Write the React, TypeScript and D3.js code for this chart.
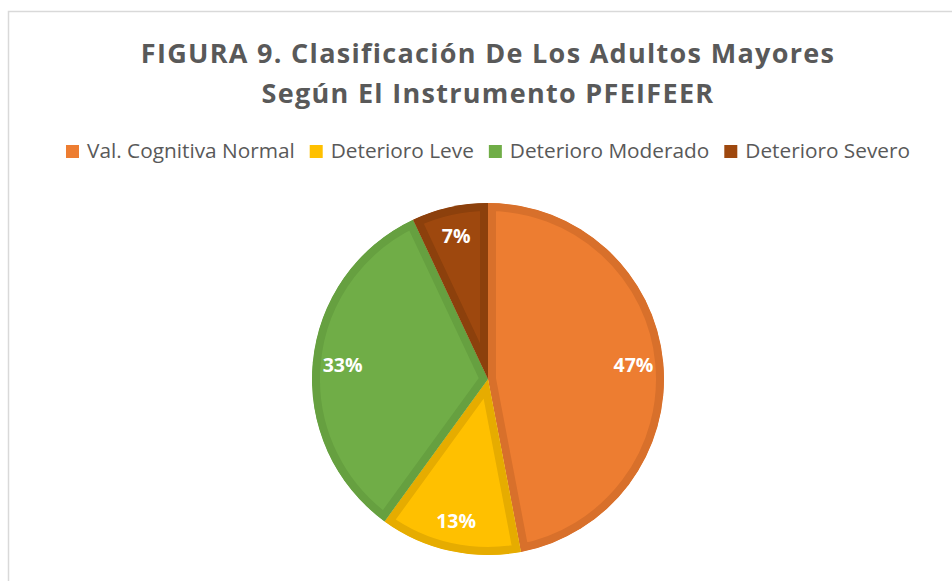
import React, { useEffect, useRef } from 'react';
import * as d3 from 'd3';

const width = 952;
const height = 581;

const categories = ['Val. Cognitiva Normal', 'Deterioro Leve', 'Deterioro Moderado', 'Deterioro Severo'];
const values = [47, 13, 33, 7];
const fills = ['#ED7D31', '#FFC000', '#70AD47', '#9E480E'];
const borders = ['#D8702B', '#E6AC00', '#66A040', '#8C400C'];
const titleLines = ['FIGURA 9. Clasificación De Los Adultos Mayores', 'Según El Instrumento PFEIFEER'];

const textColor = '#595959';
const font = '"Open Sans", "Noto Sans", sans-serif';
const cx = 488;
const cy = 379;
const radius = 176;
const border = 8;

export default function App() {
  const ref = useRef<SVGSVGElement>(null);

  useEffect(() => {
    const svg = d3.select(ref.current);
    svg.selectAll('*').remove();

    // chart frame
    svg.append('rect')
      .attr('x', 8.5).attr('y', 11.5)
      .attr('width', 1000).attr('height', 700)
      .attr('fill', '#fff').attr('stroke', '#d9d9d9').attr('stroke-width', 1.5);

    // title
    const title = svg.append('text')
      .attr('text-anchor', 'middle')
      .attr('font-family', font)
      .attr('font-weight', 700)
      .attr('font-size', 27)
      .attr('letter-spacing', 1.3)
      .attr('fill', textColor);
    titleLines.forEach((t, i) => {
      title.append('tspan').attr('x', cx).attr('y', 63 + i * 40).text(t);
    });

    // legend, laid out in one centred row
    const gap = 15;
    const legend = svg.append('g').attr('font-family', font).attr('font-size', 20.8).attr('fill', textColor);
    const items = legend.selectAll('g').data(categories).join('g');
    items.append('rect').attr('width', 13).attr('height', 13).attr('y', -13).attr('fill', (_, i) => fills[i]);
    items.append('text').attr('x', 21).attr('y', 0).text(d => d);
    let x = 0;
    items.each(function () {
      const g = d3.select(this);
      const w = (g.select('text').node() as SVGTextElement).getComputedTextLength();
      g.attr('transform', `translate(${x},0)`);
      x += 21 + w + gap;
    });
    const total = x - gap;
    legend.attr('transform', `translate(${cx - total / 2},158)`);

    // pie
    const pie = d3.pie<number>().sort(null).value(d => d);
    const arcs = pie(values);
    const arc = d3.arc<d3.PieArcDatum<number>>().innerRadius(0).outerRadius(radius);
    const labelArc = d3.arc<d3.PieArcDatum<number>>().innerRadius(radius * 0.83).outerRadius(radius * 0.83);

    const defs = svg.append('defs');
    arcs.forEach((a, i) => {
      defs.append('clipPath').attr('id', `clip${i}`).append('path').attr('d', arc(a));
    });

    const g = svg.append('g').attr('transform', `translate(${cx},${cy})`);
    g.selectAll('path.slice').data(arcs).join('path')
      .attr('class', 'slice')
      .attr('d', d => arc(d))
      .attr('fill', (_, i) => fills[i])
      .attr('stroke', (_, i) => borders[i])
      .attr('stroke-width', border * 2)
      .attr('stroke-linejoin', 'miter')
      .attr('clip-path', (_, i) => `url(#clip${i})`);

    g.selectAll('text').data(arcs).join('text')
      .attr('transform', d => `translate(${labelArc.centroid(d)})`)
      .attr('text-anchor', 'middle')
      .attr('dy', '0.35em')
      .attr('font-family', font)
      .attr('font-weight', 700)
      .attr('font-size', 19.5)
      .attr('fill', '#fff')
      .text(d => `${d.data}%`);
  }, []);

  return (
    <svg ref={ref} width={width} height={height}
      style={{ position: 'absolute', left: 0, top: 0, background: '#fff' }} />
  );
}
